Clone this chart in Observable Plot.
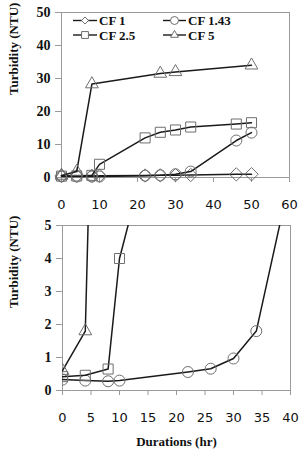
<!DOCTYPE html>
<html>
<head>
<meta charset="utf-8">
<script src="https://cdn.jsdelivr.net/npm/d3@7"></script>
<script src="https://cdn.jsdelivr.net/npm/@observablehq/plot@0.6"></script>
<style>
  html, body { margin: 0; padding: 0; background: #fff; }
  #wrap { position: relative; width: 300px; height: 453px; }
  #wrap svg { position: absolute; left: 0; overflow: visible; }
  [aria-label^="x-axis"] text { font-family: "DejaVu Sans", sans-serif; font-size: 13px; fill: #111; }
  [aria-label^="y-axis"] text { font-family: "Liberation Serif", "Times New Roman", serif; font-size: 14px; font-weight: bold; fill: #111; }
  [aria-label^="x-axis"] line, [aria-label^="y-axis"] line,
  [aria-label^="x-axis"] path, [aria-label^="y-axis"] path { stroke: #9a9a9a; }
</style>
</head>
<body>
<div id="wrap"></div>
<script>
// Turbidity (NTU) over filtration time for four concentration factors
const seriesNames = ["CF 1", "CF 1.43", "CF 2.5", "CF 5"];
const seriesSymbols = ["diamond2", "circle", "square2", "triangle2"];

const hours = [0, 4, 8, 10, 22, 26, 30, 34, 46, 50];
const cf1 = [0.5, 0.5, 0.5, 0.55, 0.6, 0.65, 0.7, 0.75, 0.95, 1.0];
const cf143 = [0.33, 0.3, 0.28, 0.3, 0.56, 0.66, 0.97, 1.8, 11.2, 13.6];
const cf25 = [0.42, 0.46, 0.65, 4.0, 12.0, 13.7, 14.4, 15.3, 16.2, 16.6];
const cf5Hours = [0, 4, 8, 26, 30, 50];
const cf5 = [0.6, 1.8, 28.3, 31.5, 32.0, 34.0];

const topXTicks = [0, 10, 20, 30, 40, 50, 60];
const topYTicks = [0, 10, 20, 30, 40, 50];
const zoomXTicks = [0, 5, 10, 15, 20, 25, 30, 35, 40];
const zoomYTicks = [0, 1, 2, 3, 4, 5];

const yTitle = "Turbidity (NTU)";
const xTitle = "Durations (hr)";

// long-format table built from the arrays above
const rows = [
  ...hours.map((h, i) => ({series: "CF 1", hour: h, value: cf1[i]})),
  ...hours.map((h, i) => ({series: "CF 1.43", hour: h, value: cf143[i]})),
  ...hours.map((h, i) => ({series: "CF 2.5", hour: h, value: cf25[i]})),
  ...cf5Hours.map((h, i) => ({series: "CF 5", hour: h, value: cf5[i]}))
];

const markerRadius = {"CF 1": 6, "CF 1.43": 5.5, "CF 2.5": 6.4, "CF 5": 6.1};
const markerGray = "#6f6f6f";
const lineColor = "#1a1a1a";
const frameGray = "#9a9a9a";
const serif = "'Liberation Serif', 'Times New Roman', serif";
const intFormat = d => String(d);

function seriesMarks(data, clip) {
  const marks = [];
  for (const name of seriesNames) {
    const d = data.filter(r => r.series === name);
    if (!d.length) continue;
    marks.push(Plot.line(d, {x: "hour", y: "value", stroke: lineColor, strokeWidth: 1.5, clip}));
    marks.push(Plot.dot(d, {
      x: "hour", y: "value", symbol: () => name, r: markerRadius[name],
      stroke: markerGray, strokeWidth: 1, fill: "none", clip
    }));
  }
  return marks;
}

const wrap = document.getElementById("wrap");

// Full-range panel
const fullPanel = Plot.plot({
  width: 300, height: 215,
  marginLeft: 61, marginRight: 11, marginTop: 12, marginBottom: 38,
  x: {domain: [0, 60], ticks: topXTicks, tickFormat: intFormat, tickSize: 5, tickPadding: 17, label: null},
  y: {domain: [0, 50], ticks: topYTicks, tickFormat: intFormat, tickSize: 6, tickPadding: 5, label: null},
  symbol: {domain: seriesNames, range: seriesSymbols},
  marks: [
    Plot.frame({stroke: frameGray}),
    ...seriesMarks(rows, false),
    Plot.text([yTitle], {frameAnchor: "left", rotate: -90, dx: -48,
      fontFamily: serif, fontWeight: "bold", fontSize: 13, fill: "#111"})
  ]
});
fullPanel.style.top = "0px";
wrap.appendChild(fullPanel);

// Legend inside the full-range panel
const legendSizes = {"CF 1": 32, "CF 1.43": 50, "CF 2.5": 60, "CF 5": 45};
const legendCols = [{x1: 73, x2: 97, text: 99}, {x1: 163, x2: 186, text: 188}];
const legendRows = [20.5, 35];
const lg = d3.select(fullPanel).append("g").attr("aria-label", "legend");
seriesNames.forEach((name, i) => {
  const c = legendCols[i % 2], y = legendRows[Math.floor(i / 2)];
  const g = lg.append("g");
  g.append("line").attr("x1", c.x1).attr("x2", c.x2).attr("y1", y).attr("y2", y)
    .attr("stroke", lineColor).attr("stroke-width", 1.4);
  const sym = {"diamond2": d3.symbolDiamond2, "circle": d3.symbolCircle,
               "square2": d3.symbolSquare2, "triangle2": d3.symbolTriangle2}[seriesSymbols[i]];
  g.append("path").attr("d", d3.symbol(sym, legendSizes[name])())
    .attr("transform", `translate(${(c.x1 + c.x2) / 2},${y})`)
    .attr("fill", "#fff").attr("stroke", markerGray);
  g.append("text").attr("x", c.text).attr("y", y).attr("dy", "0.36em")
    .attr("text-anchor", "start")
    .attr("font-family", serif).attr("font-weight", "bold").attr("font-size", 13)
    .attr("fill", "#111").text(name);
});

// Zoomed panel: first 40 hours, 0–5 NTU
const zoomRows = rows.filter(r => r.series !== "CF 1");
const zoomPanel = Plot.plot({
  width: 300, height: 238,
  marginLeft: 62, marginRight: 10, marginTop: 10, marginBottom: 63,
  x: {domain: [0, 40], ticks: zoomXTicks, tickFormat: intFormat, tickSize: 5, tickPadding: 17, label: null},
  y: {domain: [0, 5], ticks: zoomYTicks, tickFormat: intFormat, tickSize: 6, tickPadding: 5, label: null},
  symbol: {domain: seriesNames, range: seriesSymbols},
  marks: [
    Plot.frame({stroke: frameGray}),
    ...seriesMarks(zoomRows, true),
    Plot.text([yTitle], {frameAnchor: "left", rotate: -90, dx: -49,
      fontFamily: serif, fontWeight: "bold", fontSize: 13, fill: "#111"}),
    Plot.text([xTitle], {frameAnchor: "bottom", dy: 55,
      fontFamily: serif, fontWeight: "bold", fontSize: 13, fill: "#111"})
  ]
});
zoomPanel.style.top = "215px";
wrap.appendChild(zoomPanel);
</script>
</body>
</html>
